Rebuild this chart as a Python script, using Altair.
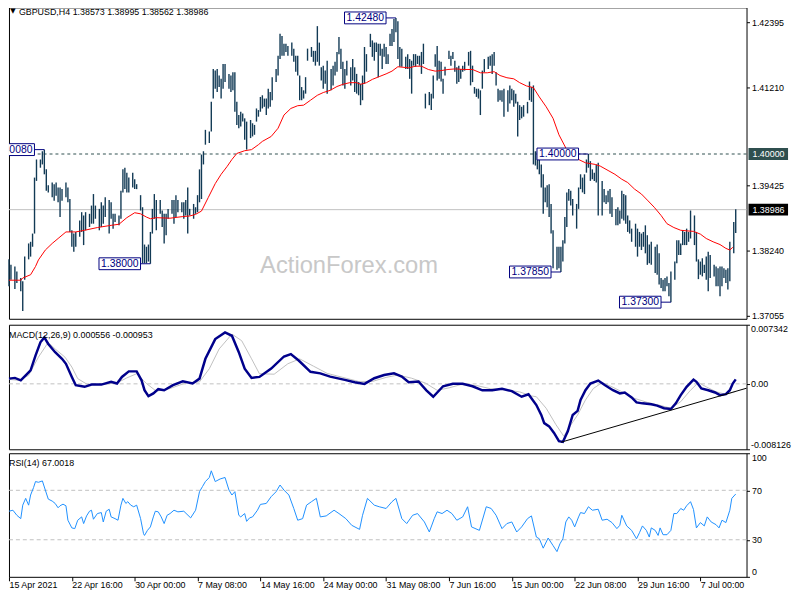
import json
import altair as alt
import pandas as pd

# ---------------- data ----------------
title_text = "GBPUSD,H4  1.38573 1.38995 1.38562 1.38986"
macd_title = "MACD(12,26,9) 0.000556 -0.000953"
rsi_title = "RSI(14) 67.0018"
watermark = "ActionForex.com"

# H4 bar number (0 = 15 Apr 2021 00:00), bar high, bar low
bar_idx = [
    0, 1, 3, 4, 6, 7, 8, 10, 11, 12,
    13, 14, 16, 17, 18, 19, 20, 22, 23, 24,
    25, 26, 27, 29, 30, 31, 32, 33, 34, 36,
    37, 38, 39, 41, 42, 43, 44, 46, 47, 48,
    49, 51, 52, 53, 54, 56, 57, 58, 59, 60,
    61, 63, 64, 65, 67, 68, 69, 70, 71, 72,
    73, 74, 75, 77, 78, 79, 80, 81, 83, 84,
    85, 86, 88, 89, 90, 91, 92, 94, 95, 96,
    97, 98, 99, 100, 102, 103, 104, 105, 106, 107,
    108, 109, 110, 112, 113, 114, 115, 116, 117, 118,
    119, 120, 121, 123, 124, 125, 126, 127, 128, 129,
    130, 131, 132, 133, 134, 136, 137, 138, 139, 140,
    141, 142, 144, 145, 146, 147, 148, 149, 150, 151,
    152, 154, 155, 156, 157, 158, 159, 160, 161, 162,
    164, 165, 166, 167, 168, 169, 170, 171, 172, 174,
    175, 176, 177, 178, 179, 180, 181, 182, 184, 185,
    186, 187, 188, 189, 190, 191, 192, 193, 194, 195,
    196, 197, 198, 199, 200, 202, 203, 204, 205, 206,
    207, 208, 209, 210, 211, 212, 214, 215, 216, 217,
    218, 219, 220, 221, 222, 224, 225, 226, 227, 228,
    229, 230, 231, 232, 234, 235, 236, 237, 238, 239,
    240, 241, 242, 244, 245, 246, 247, 248, 249, 250,
    251, 252, 254, 255, 256, 257, 258, 259, 260, 261,
    262, 264, 265, 266, 267, 268, 269, 270, 271, 272,
    273, 274, 275, 276, 277, 279, 280, 281, 282, 283,
    284, 285, 286, 287, 289, 290, 291, 292, 293, 294,
    295, 296, 297, 298, 299, 300, 302, 303, 304, 305,
    306, 307, 309, 310, 311, 312, 313, 314, 315, 316,
    317, 319, 320, 321, 322, 323, 324, 325, 326, 327,
    329, 330, 331, 332, 333, 334, 335, 336, 337, 339,
    340, 341, 342, 343, 344, 345, 346, 347, 349, 350,
    351, 352, 353, 354, 355, 356, 357, 359, 360, 361,
    362, 363, 364, 365, 366, 367, 369, 370,
]
bar_high = [
    1.3808, 1.3798, 1.3795, 1.3786, 1.3774, 1.3768, 1.3813, 1.3837, 1.3840, 1.3855,
    1.3957, 1.3990, 1.3990, 1.4005, 1.4008, 1.3972, 1.3943, 1.3948, 1.3945, 1.3948,
    1.3939, 1.3939, 1.3936, 1.3948, 1.3939, 1.3918, 1.3861, 1.3855, 1.3858, 1.3879,
    1.3894, 1.3888, 1.3894, 1.3891, 1.3906, 1.3927, 1.3906, 1.3900, 1.3912, 1.3906,
    1.3921, 1.3916, 1.3912, 1.3891, 1.3891, 1.3888, 1.3933, 1.3972, 1.3975, 1.3966,
    1.3957, 1.3966, 1.3954, 1.3945, 1.3925, 1.3903, 1.3835, 1.3831, 1.3835, 1.3858,
    1.3900, 1.3927, 1.3916, 1.3916, 1.3897, 1.3891, 1.3891, 1.3900, 1.3916, 1.3916,
    1.3925, 1.3916, 1.3912, 1.3912, 1.3916, 1.3939, 1.3900, 1.3909, 1.3903, 1.3925,
    1.3972, 1.3999, 1.4005, 1.4044, 1.4041, 1.4095, 1.4155, 1.4152, 1.4155, 1.4143,
    1.4137, 1.4164, 1.4164, 1.4146, 1.4143, 1.4149, 1.4149, 1.4095, 1.4071, 1.4077,
    1.4074, 1.4065, 1.4059, 1.4062, 1.4056, 1.4053, 1.4083, 1.4080, 1.4104, 1.4107,
    1.4101, 1.4101, 1.4119, 1.4113, 1.4140, 1.4155, 1.4179, 1.4219, 1.4215, 1.4201,
    1.4201, 1.4197, 1.4203, 1.4192, 1.4179, 1.4179, 1.4143, 1.4122, 1.4116, 1.4140,
    1.4192, 1.4195, 1.4188, 1.4188, 1.4233, 1.4203, 1.4158, 1.4161, 1.4152, 1.4170,
    1.4155, 1.4161, 1.4168, 1.4186, 1.4213, 1.4192, 1.4168, 1.4155, 1.4170, 1.4158,
    1.4173, 1.4158, 1.4146, 1.4131, 1.4128, 1.4143, 1.4195, 1.4182, 1.4219, 1.4207,
    1.4203, 1.4203, 1.4201, 1.4201, 1.4192, 1.4201, 1.4195, 1.4182, 1.4219, 1.4228,
    1.4246, 1.4248, 1.4242, 1.4195, 1.4192, 1.4177, 1.4182, 1.4173, 1.4170, 1.4182,
    1.4182, 1.4179, 1.4179, 1.4186, 1.4201, 1.4110, 1.4113, 1.4110, 1.4143, 1.4182,
    1.4197, 1.4170, 1.4168, 1.4137, 1.4159, 1.4188, 1.4179, 1.4186, 1.4170, 1.4158,
    1.4161, 1.4155, 1.4161, 1.4168, 1.4186, 1.4188, 1.4161, 1.4122, 1.4119, 1.4119,
    1.4116, 1.4152, 1.4173, 1.4177, 1.4179, 1.4182, 1.4186, 1.4149, 1.4119, 1.4116,
    1.4116, 1.4119, 1.4116, 1.4125, 1.4119, 1.4116, 1.4110, 1.4095, 1.4089, 1.4086,
    1.4089, 1.4095, 1.4132, 1.4122, 1.4125, 1.4005, 1.4005, 1.3990, 1.3981, 1.3963,
    1.3939, 1.3943, 1.3945, 1.3909, 1.3861, 1.3831, 1.3831, 1.3831, 1.3843, 1.3885,
    1.3930, 1.3936, 1.3933, 1.3918, 1.3909, 1.3939, 1.3963, 1.3957, 1.3963, 1.3990,
    1.4000, 1.3987, 1.3972, 1.3966, 1.3981, 1.3984, 1.3951, 1.3936, 1.3925, 1.3933,
    1.3936, 1.3921, 1.3900, 1.3903, 1.3897, 1.3933, 1.3927, 1.3925, 1.3888, 1.3879,
    1.3864, 1.3873, 1.3864, 1.3858, 1.3855, 1.3858, 1.3870, 1.3852, 1.3835, 1.3840,
    1.3831, 1.3835, 1.3819, 1.3774, 1.3771, 1.3774, 1.3777, 1.3765, 1.3786, 1.3804,
    1.3843, 1.3843, 1.3837, 1.3861, 1.3858, 1.3864, 1.3858, 1.3897, 1.3888, 1.3858,
    1.3808, 1.3804, 1.3810, 1.3798, 1.3813, 1.3822, 1.3816, 1.3798, 1.3795, 1.3792,
    1.3795, 1.3795, 1.3792, 1.3789, 1.3792, 1.3840, 1.3876, 1.38995,
]
bar_low = [
    1.3759, 1.3771, 1.3754, 1.3765, 1.3750, 1.3714, 1.3771, 1.3808, 1.3813, 1.3831,
    1.3855, 1.3951, 1.3975, 1.3981, 1.3963, 1.3933, 1.3930, 1.3921, 1.3915, 1.3924,
    1.3912, 1.3885, 1.3915, 1.3921, 1.3912, 1.3858, 1.3831, 1.3822, 1.3831, 1.3849,
    1.3858, 1.3834, 1.3861, 1.3867, 1.3873, 1.3873, 1.3882, 1.3861, 1.3867, 1.3873,
    1.3885, 1.3855, 1.3882, 1.3864, 1.3876, 1.3870, 1.3882, 1.3930, 1.3936, 1.3930,
    1.3930, 1.3939, 1.3936, 1.3936, 1.3897, 1.3801, 1.3801, 1.3801, 1.3804, 1.3800,
    1.3855, 1.3882, 1.3861, 1.3891, 1.3867, 1.3837, 1.3852, 1.3882, 1.3891, 1.3873,
    1.3885, 1.3894, 1.3894, 1.3882, 1.3888, 1.3855, 1.3888, 1.3882, 1.3891, 1.3894,
    1.3912, 1.3918, 1.3981, 1.4017, 1.4020, 1.4041, 1.4101, 1.4119, 1.4113, 1.4122,
    1.4101, 1.4119, 1.4131, 1.4119, 1.4113, 1.4116, 1.4077, 1.4053, 1.4047, 1.4050,
    1.4059, 1.4026, 1.4008, 1.4029, 1.4032, 1.4035, 1.4059, 1.4068, 1.4077, 1.4083,
    1.4086, 1.4071, 1.4083, 1.4086, 1.4098, 1.4131, 1.4143, 1.4173, 1.4179, 1.4179,
    1.4186, 1.4179, 1.4179, 1.4168, 1.4150, 1.4143, 1.4098, 1.4098, 1.4101, 1.4110,
    1.4170, 1.4177, 1.4168, 1.4161, 1.4168, 1.4161, 1.4134, 1.4119, 1.4128, 1.4110,
    1.4116, 1.4125, 1.4143, 1.4150, 1.4182, 1.4155, 1.4125, 1.4119, 1.4143, 1.4125,
    1.4134, 1.4113, 1.4110, 1.4107, 1.4089, 1.4098, 1.4128, 1.4150, 1.4195, 1.4177,
    1.4170, 1.4186, 1.4140, 1.4179, 1.4155, 1.4177, 1.4164, 1.4164, 1.4197, 1.4197,
    1.4204, 1.4222, 1.4173, 1.4159, 1.4159, 1.4155, 1.4155, 1.4137, 1.4110, 1.4161,
    1.4159, 1.4164, 1.4161, 1.4146, 1.4164, 1.4083, 1.4089, 1.4080, 1.4101, 1.4159,
    1.4134, 1.4137, 1.4132, 1.4110, 1.4143, 1.4173, 1.4161, 1.4173, 1.4150, 1.4128,
    1.4131, 1.4137, 1.4150, 1.4152, 1.4161, 1.4125, 1.4131, 1.4110, 1.4104, 1.4101,
    1.4071, 1.4119, 1.4149, 1.4155, 1.4161, 1.4146, 1.4161, 1.4125, 1.4095, 1.4098,
    1.4095, 1.4068, 1.4077, 1.4092, 1.4098, 1.4086, 1.4092, 1.4032, 1.4062, 1.4065,
    1.4068, 1.4074, 1.4098, 1.4095, 1.3981, 1.3979, 1.3972, 1.3963, 1.3939, 1.3891,
    1.3912, 1.3903, 1.3885, 1.3855, 1.3792, 1.3789, 1.3792, 1.3785, 1.3804, 1.3837,
    1.3867, 1.3915, 1.3906, 1.3888, 1.3864, 1.3900, 1.3936, 1.3930, 1.3927, 1.3966,
    1.3975, 1.3951, 1.3954, 1.3951, 1.3948, 1.3888, 1.3888, 1.3912, 1.3909, 1.3912,
    1.3891, 1.3885, 1.3870, 1.3870, 1.3873, 1.3882, 1.3879, 1.3873, 1.3858, 1.3855,
    1.3840, 1.3831, 1.3813, 1.3831, 1.3825, 1.3831, 1.3819, 1.3798, 1.3801, 1.3798,
    1.3783, 1.3780, 1.3762, 1.3756, 1.3750, 1.3750, 1.3759, 1.3741, 1.3730, 1.3771,
    1.3801, 1.3816, 1.3816, 1.3834, 1.3834, 1.3834, 1.3840, 1.3846, 1.3834, 1.3804,
    1.3772, 1.3780, 1.3777, 1.3783, 1.3771, 1.3750, 1.3774, 1.3777, 1.3759, 1.3759,
    1.3741, 1.3759, 1.3774, 1.3765, 1.3753, 1.3768, 1.3819, 1.38562,
]
last_close = 1.38986

# moving average (red)
ma_bar = [0, 6, 7, 11, 13.5, 15, 18.5, 22, 25, 29,
          34, 38.5, 45, 52, 56, 60, 64, 67, 70, 72,
          75, 82, 88.5, 92, 95, 98, 101.5, 105, 108, 111,
          113.5, 116, 120, 123.5, 127, 129, 133.5, 137, 140, 143.5,
          147, 150, 153.5, 157, 160, 163.5, 167, 170, 173.5, 177,
          179, 182, 185, 188.5, 192, 195, 198, 203.5, 207, 210,
          213.5, 217, 220, 223.5, 227, 232, 236, 240, 243.5, 247,
          250, 253.5, 257, 260, 263.5, 267, 270, 273.5, 277, 280,
          283.5, 287, 290, 293.5, 298.5, 301, 305, 308.5, 312, 315,
          318.5, 322, 325, 328.5, 332, 335, 338.5, 342, 345, 348.5,
          352, 355, 358.5, 362, 365, 367, 368.5]
ma_val = [1.3770, 1.3770, 1.3774, 1.3780, 1.3795, 1.3807, 1.3825, 1.3837, 1.3846, 1.3858,
          1.3858, 1.3861, 1.3866, 1.3870, 1.3872, 1.3884, 1.3893, 1.3891, 1.3885, 1.3882,
          1.3884, 1.3883, 1.3886, 1.3887, 1.3890, 1.3896, 1.3921, 1.3946, 1.3963, 1.3977,
          1.3990, 1.4001, 1.4006, 1.4008, 1.4017, 1.4023, 1.4032, 1.4047, 1.4071, 1.4083,
          1.4088, 1.4089, 1.4098, 1.4107, 1.4112, 1.4116, 1.4123, 1.4127, 1.4130, 1.4130,
          1.4127, 1.4130, 1.4136, 1.4141, 1.4146, 1.4151, 1.4159, 1.4157, 1.4160, 1.4160,
          1.4154, 1.4151, 1.4152, 1.4154, 1.4155, 1.4154, 1.4154, 1.4148, 1.4148, 1.4150,
          1.4143, 1.4139, 1.4137, 1.4130, 1.4124, 1.4121, 1.4104, 1.4086, 1.4065, 1.4035,
          1.4011, 1.3999, 1.3990, 1.3984, 1.3981, 1.3978, 1.3970, 1.3963, 1.3954, 1.3948,
          1.3936, 1.3927, 1.3916, 1.3903, 1.3888, 1.3873, 1.3866, 1.3861, 1.3860, 1.3859,
          1.3854, 1.3846, 1.3840, 1.3835, 1.3828, 1.3825, 1.3830]

# MACD main line
macd_bar = [0, 3, 6, 8.5, 11, 13.5, 16, 18, 20, 23.5,
            27, 29, 32, 34, 38.5, 42, 47, 52, 55, 57.5,
            61, 65, 67.5, 69, 71, 73.5, 76, 79, 83.5, 88.5,
            93.5, 97, 100, 105, 110, 113.5, 117, 120, 123.5, 127.5,
            133.5, 140, 143.5, 147.5, 153.5, 158.5, 163.5, 171, 176, 181,
            186, 191, 196, 200, 203.5, 208.5, 212.5, 216, 221, 226,
            231, 236, 241, 246, 251, 256, 261, 264.5,
            268.5, 271, 272.5, 275, 277.5, 280, 282, 284.5, 287, 289.5,
            291, 293.5, 296, 300, 303.5, 307.5, 311, 313.5, 317, 319.5,
            322.5, 327, 330, 333.5, 337, 339.5, 342, 345, 348.5, 350,
            352.5, 356, 359.5, 362, 365, 367, 368.5, 370]
macd_val = [0.00065, 0.00074, 0.00044, 0.00106, 0.00167, 0.00351, 0.00516, 0.00577, 0.00495, 0.00393,
            0.00311, 0.00249, 0.00086, -0.00017, -0.00037, -0.00009, -0.00009, 0.00025, 0.00004, 0.00086,
            0.00155, 0.00155, 0.00044, -0.00079, -0.00152, -0.00119, -0.00066, -0.00079, -0.00017, 0.00032,
            0.00004, 0.00065, 0.00311, 0.00556, 0.00639, 0.00597, 0.00393, 0.00188, 0.00074, 0.00086,
            0.0019, 0.0034, 0.0037, 0.0029, 0.0015, 0.0013, 0.0009, 0.0005, 0.0002, 0.0000,
            0.0007, 0.0011, 0.0013, 0.0009, 0.0002, 0.0003, -0.0008, -0.0016, -0.0003, 0.0000,
            0.0000, -0.0003, -0.0008, -0.0008, -0.0006, -0.0009, -0.0016, -0.0013,
            -0.00263, -0.00386, -0.00488, -0.00528, -0.00610, -0.00712, -0.00721, -0.00589, -0.00386, -0.00336,
            -0.00201, -0.00079, 0.00004, 0.00041, -0.00017, -0.00079, -0.00119, -0.00107, -0.00168, -0.00230,
            -0.00242, -0.00254, -0.00270, -0.00303, -0.00312, -0.00242, -0.00140, -0.00037, 0.00053, 0.00025,
            -0.00058, -0.00079, -0.00107, -0.00140, -0.00128, -0.00079, 0.00004, 0.000556]

# MACD signal line
sig_bar = [0, 5, 10, 15, 20, 23.5, 28.5, 32, 35, 40,
           47, 55, 60, 65, 70, 75, 82, 90, 97, 102,
           107, 113.5, 118.5, 123.5, 127.5,
           135, 142, 148, 155, 162, 170, 178, 185, 192, 198,
           205, 212, 218, 224, 230, 238, 245, 252, 260, 266,
           268.5, 273.5, 278.5, 282.5, 285, 289.5, 293.5, 297.5, 302, 307,
           312, 318.5, 325, 332, 337, 342, 347, 351, 355, 360,
           365, 370]
sig_val = [0.00056, 0.00044, 0.00106, 0.00332, 0.00516, 0.00433, 0.00332, 0.00209, 0.00065, -0.00009,
           -0.00009, 0.00012, 0.00074, 0.00126, 0.00004, -0.00091, -0.00058, 0.00012, 0.00025, 0.00188,
           0.00433, 0.00618, 0.00535, 0.00311, 0.00126,
           0.0012, 0.0025, 0.0031, 0.0022, 0.0013, 0.0008, 0.0003, 0.0003, 0.0008, 0.0011,
           0.0007, 0.0001, -0.0008, -0.0005, -0.0001, -0.0002, -0.0006, -0.0007, -0.0010, -0.0015,
           -0.00160, -0.00303, -0.00508, -0.00651, -0.00549, -0.00386, -0.00201, -0.00058, 0.00016, -0.00037,
           -0.00098, -0.00181, -0.00230, -0.00270, -0.00303, -0.00221, -0.00079, 0.00016, -0.00037, -0.00098,
           -0.00131, -0.000953]

# trend line drawn on the MACD
trend_bar = [281, 375.5]
trend_val = [-0.00725, -0.00054]

# RSI(14)
rsi_bar = [0, 2, 4, 6, 7, 8.5, 10, 11, 12.5, 13.5,
           15, 17, 18.5, 20, 22, 23.5, 25, 26, 27.5, 29,
           30, 32, 33.5, 35, 37, 38, 39.5, 41, 42, 43,
           45, 47, 48, 49.5, 51, 52, 54, 55.5, 57, 58,
           59.5, 60.5, 62, 63.5, 65, 67, 68.5, 69, 70.5, 72,
           73.5, 74.5, 76, 77.5, 79, 80.5, 82, 84, 86, 89,
           92.5, 95, 97, 98.5, 100, 102, 103, 105, 107.5, 110,
           112, 113.5, 115, 117, 118, 120, 121, 122.5, 124, 126.5,
           128,
           131, 133.5, 136, 138, 140, 142.5, 145, 147, 149.5, 151.5,
           154, 156.5, 158.5, 161.5, 165.5, 168, 171.5, 174.5, 178.5, 180,
           182.5, 186, 188.5, 192, 195, 197, 200, 202.5, 205.5, 208,
           211.5, 214, 216.5, 218, 220.5, 223, 225.5, 228, 231, 233.5,
           235.5, 239.5, 243, 245.5, 248, 251, 253.5, 256, 258.5, 261,
           264, 266,
           268.5, 270, 272, 274.5, 277, 279, 280.5, 282, 283.5, 285,
           286.5, 288, 290, 291, 293, 295, 297, 300, 302, 304.5,
           307, 309.5, 311, 312, 314.5, 317, 319.5, 321, 322.5, 324.5,
           326, 327, 329, 330.5, 331.5, 333, 335, 337, 338.5, 340,
           342, 343.5, 345, 347, 348.5, 350, 352, 354, 355.5, 357.5,
           360, 361.5, 363, 365, 367, 368, 370]
rsi_val = [53.1, 53.9, 49.8, 47.1, 58.0, 63.5, 58.0, 66.2, 72.2, 77.1,
           76.5, 77.6, 70.2, 62.9, 61.3, 59.4, 55.9, 57.5, 58.8, 57.5,
           45.8, 39.6, 39.0, 45.8, 48.5, 43.1, 49.3, 53.1, 53.9, 46.6,
           51.2, 52.0, 44.4, 53.1, 54.7, 48.5, 47.1, 45.8, 58.0, 63.5,
           59.4, 60.8, 58.0, 56.7, 58.0, 47.1, 34.9, 33.5, 37.6, 40.4,
           48.5, 53.1, 52.6, 48.5, 43.1, 49.8, 51.2, 53.9, 52.6, 53.1,
           47.7, 53.9, 68.9, 73.0, 77.1, 80.4, 85.8, 77.1, 79.2, 80.4,
           70.2, 66.2, 68.9, 49.8, 48.5, 51.2, 44.9, 47.7, 48.5, 53.9,
           58.6,
           59.4, 64.9, 68.9, 74.3, 70.2, 66.2, 55.3, 45.8, 47.1, 58.0,
           60.8, 63.5, 48.5, 49.3, 53.9, 51.2, 47.1, 41.7, 38.4, 49.8,
           63.5, 58.0, 56.7, 55.3, 60.8, 63.5, 47.1, 43.1, 49.8, 51.2,
           44.4, 36.3, 47.1, 52.6, 51.2, 53.9, 51.2, 45.8, 48.5, 56.7,
           40.4, 37.6, 56.7, 55.3, 49.8, 39.0, 43.1, 44.4, 36.3, 40.4,
           47.1, 49.3,
           32.2, 30.8, 23.2, 31.4, 25.3, 20.4, 26.7, 30.8, 44.4, 48.5,
           45.8, 40.4, 48.5, 52.0, 51.2, 56.7, 53.9, 54.7, 45.8, 46.6,
           43.9, 39.0, 41.7, 49.8, 41.2, 37.6, 30.8, 35.7, 41.2, 37.6,
           32.2, 39.6, 37.6, 33.5, 39.6, 34.1, 34.1, 37.6, 51.2, 51.2,
           55.3, 53.9, 57.5, 60.8, 54.5, 39.6, 43.9, 41.2, 48.5, 44.4,
           42.2, 39.6, 45.8, 43.9, 53.9, 63.5, 67.0]

# price labels placed on the chart
ann_bar = [18, 72, 197, 295, 281, 337]
ann_price = [1.4008, 1.3800, 1.4248, 1.4000, 1.3785, 1.3730]
ann_text = ["1.40080", "1.38000", "1.42480", "1.40000", "1.37850", "1.37300"]

price_ticks = [1.42395, 1.41810, 1.41210, 1.40610, 1.39425, 1.38840, 1.38240, 1.37640, 1.37055]
macd_ticks = [0.007342, 0.0, -0.008126]
rsi_ticks = [100, 70, 30, 0]
time_ticks = [0, 32, 64, 96, 128, 160, 192, 224, 256, 288, 320, 352]
time_labels = ["15 Apr 2021", "22 Apr 16:00", "30 Apr 00:00", "7 May 08:00", "14 May 16:00",
               "24 May 00:00", "31 May 08:00", "7 Jun 16:00", "15 Jun 00:00", "22 Jun 08:00",
               "29 Jun 16:00", "7 Jul 00:00"]

# ---------------- chart ----------------
FONT = "Liberation Sans"
W = 746
H_MAIN, H_MACD, H_RSI = 315, 126, 125
BAR_COLOR = "#123a55"
NAVY = "#000080"

xscale = alt.Scale(domain=[0, 375.5], nice=False, zero=False)


def X(axis=None):
    return alt.X("bar:Q", scale=xscale, axis=axis, title=None)


one = pd.DataFrame({"k": [0]})

# --- main price panel ---
pscale = alt.Scale(domain=[1.36997, 1.42672], nice=False, zero=False)
paxis = alt.Axis(orient="right", values=price_ticks, format=".5f", title=None,
                 tickSize=3, labelPadding=2, domain=False, grid=False)

bars_df = pd.DataFrame({"bar": bar_idx, "high": bar_high, "low": bar_low})
ma_df = pd.DataFrame({"bar": ma_bar, "ma": ma_val})
ann_df = pd.DataFrame({"bar": ann_bar, "price": ann_price, "txt": ann_text})
side_df = pd.DataFrame({"price": [1.40000, last_close], "txt": ["1.40000", "1.38986"],
                        "bg": ["#2f4f4f", "#000000"]})

cur_line = alt.Chart(pd.DataFrame({"level": [last_close]})).mark_rule(
    color="#c0c0c0", strokeWidth=1).encode(
    y=alt.Y("level:Q", scale=pscale, axis=paxis, title=None))
lvl_line = alt.Chart(pd.DataFrame({"level": [1.40000]})).mark_rule(
    color="#2f4f4f", strokeWidth=1, strokeDash=[3, 3]).encode(
    y=alt.Y("level:Q", scale=pscale, title=None))
bars = alt.Chart(bars_df).mark_rule(color=BAR_COLOR, strokeWidth=1.4).encode(
    x=X(), y=alt.Y("high:Q", scale=pscale, title=None), y2="low:Q")
ma_line = alt.Chart(ma_df).mark_line(color="#ff0000", strokeWidth=1).encode(
    x=X(), y=alt.Y("ma:Q", scale=pscale, title=None))

ann_conn = alt.Chart(ann_df).mark_rule(color=NAVY, strokeWidth=1, xOffset=-10, clip=True).encode(
    x=X(), x2="bar:Q", y=alt.Y("price:Q", scale=pscale, title=None))
ann_box = alt.Chart(ann_df).mark_rect(fill="white", stroke=NAVY, strokeWidth=1,
                                      xOffset=-52, x2Offset=-10, yOffset=-6, y2Offset=6,
                                      clip=True).encode(
    x=X(), x2="bar:Q", y=alt.Y("price:Q", scale=pscale, title=None), y2="price:Q")
ann_txt = alt.Chart(ann_df).mark_text(font=FONT, fontSize=10.5, color=NAVY, dx=-31,
                                      align="center", baseline="middle", clip=True).encode(
    x=X(), y=alt.Y("price:Q", scale=pscale, title=None), text="txt:N")

side_box = alt.Chart(side_df).mark_rect(yOffset=-6, y2Offset=6).encode(
    x=alt.value(W + 2), x2=alt.value(W + 42),
    y=alt.Y("price:Q", scale=pscale, title=None), y2="price:Q",
    color=alt.Color("bg:N", scale=None))
side_txt = alt.Chart(side_df).mark_text(font=FONT, fontSize=9, color="white",
                                        align="left", baseline="middle").encode(
    x=alt.value(W + 6), y=alt.Y("price:Q", scale=pscale, title=None), text="txt:N")

tri = alt.Chart(one).mark_text(text="▼", font="DejaVu Sans", fontSize=7, color="black",
                               align="center", baseline="middle").encode(
    x=alt.value(4), y=alt.value(4))
ttl = alt.Chart(one).mark_text(text=title_text, font=FONT, fontSize=9, color="black",
                               align="left", baseline="middle").encode(
    x=alt.value(10), y=alt.value(5))
wm = alt.Chart(one).mark_text(text=watermark, font=FONT, fontSize=24, color="#c8c8c8",
                              align="center", baseline="middle").encode(
    x=alt.value(344), y=alt.value(262))

main = alt.layer(cur_line, lvl_line, wm, bars, ma_line, ann_conn, ann_box, ann_txt,
                 side_box, side_txt, tri, ttl).properties(width=W, height=H_MAIN)

# --- MACD panel ---
mscale = alt.Scale(domain=[-0.008126, 0.007342], nice=False, zero=False)
maxis = alt.Axis(orient="right", values=macd_ticks, title=None, tickSize=3, labelPadding=1,
                 labelFlush=True, domain=False, grid=False,
                 labelExpr="datum.value > 0.001 ? '0.007342' : (datum.value < -0.001 ? '-0.008126' : '0.00')")
macd_df = pd.DataFrame({"bar": macd_bar, "v": macd_val})
sig_df = pd.DataFrame({"bar": sig_bar, "v": sig_val})
trend_df = pd.DataFrame({"bar": trend_bar, "v": trend_val})

zero_line = alt.Chart(pd.DataFrame({"level": [0.0]})).mark_rule(
    color="#c0c0c0", strokeWidth=1, strokeDash=[4, 3]).encode(
    y=alt.Y("level:Q", scale=mscale, axis=maxis, title=None))
sig_line = alt.Chart(sig_df).mark_line(color="#c0c0c0", strokeWidth=1).encode(
    x=X(), y=alt.Y("v:Q", scale=mscale, title=None))
macd_line = alt.Chart(macd_df).mark_line(color="#00008b", strokeWidth=2.5).encode(
    x=X(), y=alt.Y("v:Q", scale=mscale, title=None))
trend_line = alt.Chart(trend_df).mark_line(color="black", strokeWidth=1).encode(
    x=X(), y=alt.Y("v:Q", scale=mscale, title=None))
macd_ttl = alt.Chart(one).mark_text(text=macd_title, font=FONT, fontSize=9, color="black",
                                    align="left", baseline="middle").encode(
    x=alt.value(0), y=alt.value(10))
macd = alt.layer(zero_line, sig_line, macd_line, trend_line, macd_ttl).properties(
    width=W, height=H_MACD)

# --- RSI panel ---
rscale = alt.Scale(domain=[0, 100], nice=False, zero=False)
raxis = alt.Axis(orient="right", values=rsi_ticks, title=None, tickSize=3, labelPadding=2,
                 labelFlush=True, domain=False, grid=False)
label_expr = json.dumps(time_labels) + "[round(datum.value / 32)]"
xaxis = alt.Axis(values=time_ticks, labelExpr=label_expr, labelAlign="left", labelBaseline="top",
                 tickSize=4, labelPadding=0, labelFlush=False, labelOverlap=False,
                 domain=False, grid=False, title=None)
rsi_df = pd.DataFrame({"bar": rsi_bar, "v": rsi_val})
rsi_levels = alt.Chart(pd.DataFrame({"level": [70, 30]})).mark_rule(
    color="#c0c0c0", strokeWidth=1, strokeDash=[4, 3]).encode(
    y=alt.Y("level:Q", scale=rscale, axis=raxis, title=None))
rsi_line = alt.Chart(rsi_df).mark_line(color="#1e90ff", strokeWidth=1).encode(
    x=X(xaxis), y=alt.Y("v:Q", scale=rscale, title=None))
rsi_ttl = alt.Chart(one).mark_text(text=rsi_title, font=FONT, fontSize=9, color="black",
                                   align="left", baseline="middle").encode(
    x=alt.value(0), y=alt.value(10))
rsi = alt.layer(rsi_levels, rsi_line, rsi_ttl).properties(width=W, height=H_RSI)

chart = alt.vconcat(main, macd, rsi, spacing=2).properties(
    padding={"left": -5, "top": -5, "right": 0, "bottom": 0},
    autosize=alt.AutoSizeParams(type="pad"),
    background="white",
).configure_view(
    stroke="#000000", strokeWidth=1
).configure_axis(
    labelFont=FONT, labelFontSize=9, labelColor="#000000", tickColor="#000000"
)

chart.save("out.html", embed_options={"renderer": "svg", "actions": False})
